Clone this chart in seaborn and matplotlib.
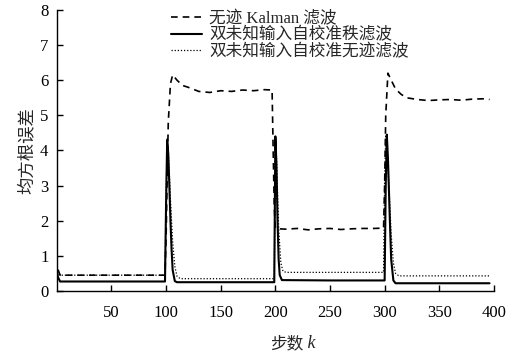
import matplotlib
matplotlib.use("Agg")
import matplotlib.pyplot as plt
import seaborn as sns

# ---- data ----
ukf_k = [0, 1, 3, 6, 50, 99, 100, 101, 102, 104, 106, 110, 115, 120, 130, 140, 150, 160, 170, 180,
         190, 197, 198, 199, 200, 202, 210, 220, 230, 240, 250, 260, 270, 280, 290, 299, 300, 301,
         303, 306, 310, 315, 320, 330, 340, 350, 360, 370, 380, 390, 396]
ukf_v = [0.30, 0.62, 0.45, 0.45, 0.45, 0.45, 1.5, 3.2, 4.8, 5.9, 6.15, 6.0, 5.85, 5.8, 5.68, 5.65,
         5.70, 5.68, 5.72, 5.70, 5.73, 5.72, 4.0, 2.4, 1.78, 1.77, 1.76, 1.78, 1.74, 1.77, 1.78, 1.75,
         1.77, 1.78, 1.78, 1.79, 3.0, 5.0, 6.2, 6.0, 5.75, 5.6, 5.5, 5.45, 5.42, 5.44, 5.45, 5.43,
         5.46, 5.47, 5.45]

rank_k = [0, 1, 3, 50, 99, 100, 101, 102, 103, 104, 105, 106, 108, 110, 150, 199, 200, 201, 202,
          203, 204, 206, 250, 300, 301, 302, 303, 304, 305, 306, 308, 310, 350, 396]
rank_v = [0.60, 0.40, 0.27, 0.27, 0.27, 2.5, 4.3, 3.9, 3.0, 2.0, 1.2, 0.6, 0.28, 0.25, 0.25, 0.25,
          4.4, 3.6, 2.0, 0.9, 0.45, 0.31, 0.30, 0.30, 3.0, 4.45, 3.8, 2.8, 1.8, 0.9, 0.30, 0.22, 0.22,
          0.22]

uscf_k = [0, 1, 3, 50, 99, 100, 101, 102, 104, 106, 108, 110, 113, 150, 199, 200, 201, 203, 205,
          207, 210, 250, 299, 300, 301, 302, 304, 306, 308, 310, 313, 350, 396]
uscf_v = [0.45, 0.55, 0.45, 0.45, 0.45, 2.6, 4.35, 4.0, 2.6, 1.4, 0.7, 0.42, 0.35, 0.35, 0.35, 4.4,
          3.8, 1.8, 0.8, 0.56, 0.53, 0.53, 0.53, 3.2, 4.4, 4.2, 2.9, 1.6, 0.8, 0.5, 0.43, 0.43, 0.43]

labels = ["无迹 Kalman 滤波", "双未知输入自校准秩滤波", "双未知输入自校准无迹滤波"]
x_ticks = [50, 100, 150, 200, 250, 300, 350, 400]
y_ticks = [0, 1, 2, 3, 4, 5, 6, 7, 8]

# ---- style ----
sns.set_theme(style="ticks")
plt.rcParams['font.family'] = ['Liberation Serif', 'Noto Sans CJK SC']
plt.rcParams['xtick.direction'] = 'in'
plt.rcParams['ytick.direction'] = 'in'

fig = plt.figure(figsize=(5.26, 3.54), dpi=100)
ax = fig.add_axes([0.108, 0.178, 0.831, 0.794])

sns.lineplot(x=ukf_k, y=ukf_v, ax=ax, color='black', lw=1.2, linestyle=(0, (4, 3)), label=labels[0])
sns.lineplot(x=rank_k, y=rank_v, ax=ax, color='black', lw=1.5, label=labels[1])
sns.lineplot(x=uscf_k, y=uscf_v, ax=ax, color='black', lw=0.9, linestyle=(0, (1, 1.5)), label=labels[2])

ax.set_xlim(0, 400)
ax.set_ylim(0, 8)
ax.set_xticks(x_ticks)
ax.set_yticks(y_ticks)
ax.tick_params(axis='both', labelsize=12, length=4, width=1, colors='black', pad=6)
ax.tick_params(axis='x', pad=10)
for s in ['top', 'right']:
    ax.spines[s].set_visible(False)
for s in ['left', 'bottom']:
    ax.spines[s].set_linewidth(1.0)
    ax.spines[s].set_color('black')

ax.set_ylabel("均方根误差", fontsize=12.5, labelpad=3)
ax.set_xlabel("")
fig.text(303 / 526, 0.017, "步数", fontsize=12, ha='right', va='baseline')
fig.text(303 / 526, 0.017, " k", fontsize=13, ha='left', va='baseline',
         family='Liberation Serif', style='italic')

leg = ax.legend(loc='upper left', bbox_to_anchor=(0.245, 1.02), frameon=False, fontsize=12,
                handlelength=1.9, labelspacing=0.03, handletextpad=0.42, borderaxespad=0)

fig.savefig("out.png", dpi=100)
